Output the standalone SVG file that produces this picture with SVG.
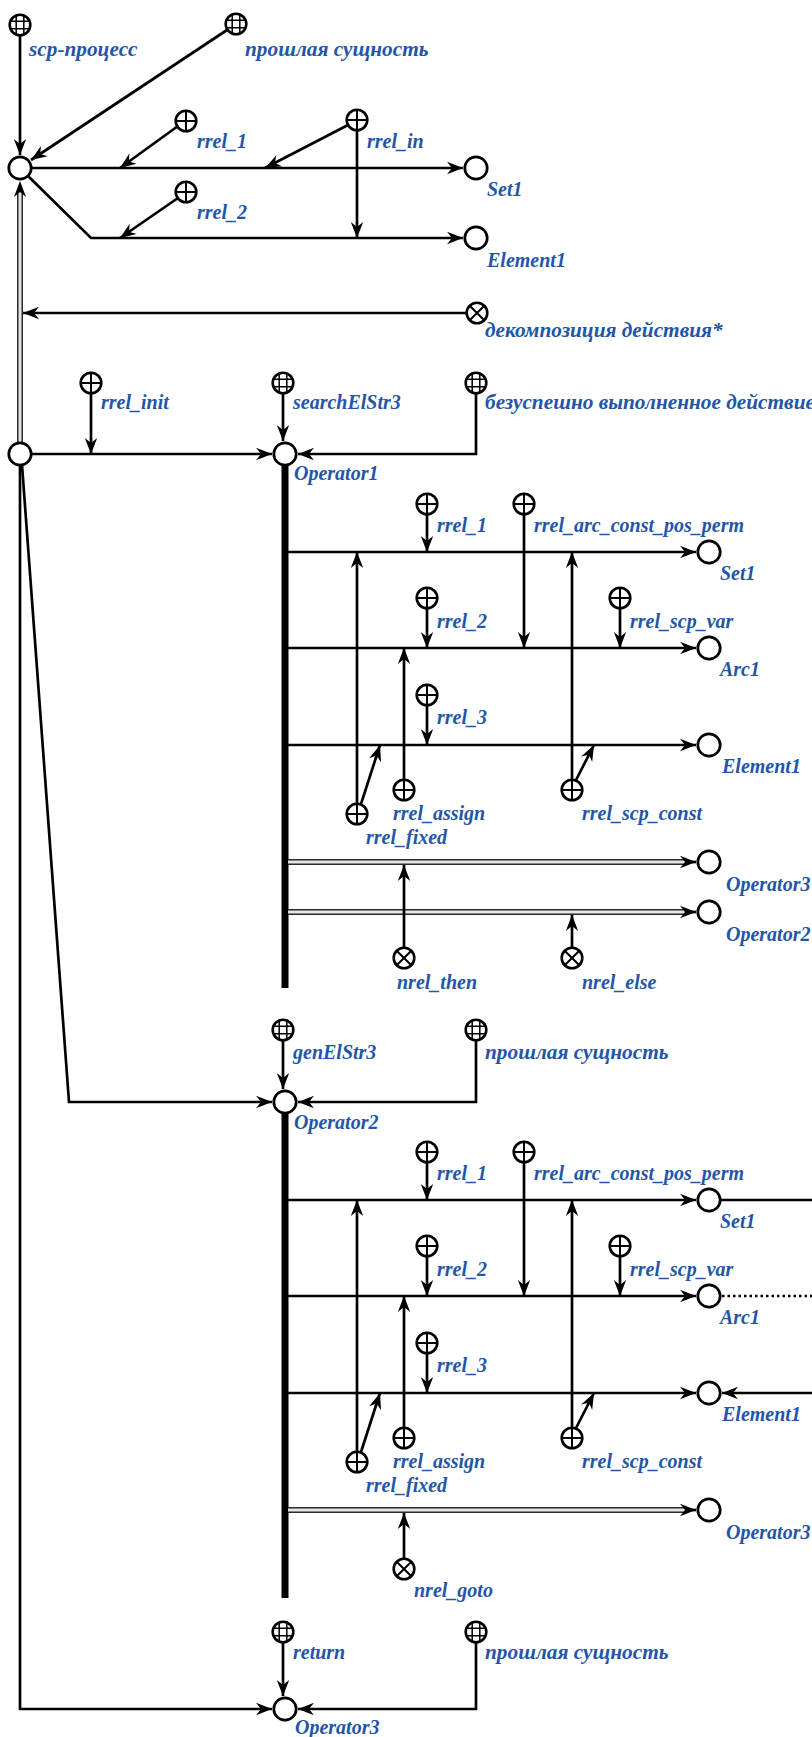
<svg xmlns="http://www.w3.org/2000/svg" xmlns:xlink="http://www.w3.org/1999/xlink" width="812" height="1737" viewBox="0 0 812 1737">
<style>
.t{font-family:"Liberation Serif","Times New Roman",serif;font-weight:bold;font-style:italic;font-size:20px;fill:#2356a8}
.r{font-size:21.3px}
.c{fill:none;stroke:#000;stroke-width:2.7}
.a{marker-end:url(#ah)}
.bar{fill:none;stroke:#000;stroke-width:7}
.dbo{fill:none;stroke:#2a2a2a;stroke-width:6}
.dbi{fill:none;stroke:#e4e4e4;stroke-width:3}
.dot{fill:none;stroke:#000;stroke-width:2.7;stroke-dasharray:2.5 3}
.n{fill:#fff;stroke:#000;stroke-width:2.7}
.s{fill:#fff;stroke:#000;stroke-width:2.6}
.g{fill:none;stroke:#000;stroke-width:1.5}
</style>
<defs>
<marker id="ah" viewBox="-17 -8 18 16" refX="0" refY="0" markerWidth="18" markerHeight="16" markerUnits="userSpaceOnUse" orient="auto"><path d="M0,0 L-16,-6.2 L-11,0 L-16,6.2 Z" fill="#000"/></marker>
<g id="grid"><circle r="10.3" class="s"/><path class="g" d="M-3.8,-9.5V9.5M3.8,-9.5V9.5M-9.5,-3.8H9.5M-9.5,3.8H9.5"/></g>
<g id="plus"><circle r="10.3" class="s"/><path class="g" style="stroke-width:2" d="M0,-10.3V10.3M-10.3,0H10.3"/></g>
<g id="cross"><circle r="10.3" class="s"/><path class="g" style="stroke-width:2" d="M-7.3,-7.3L7.3,7.3M-7.3,7.3L7.3,-7.3"/></g>
<g id="var"><circle r="11.2" class="n"/></g>
</defs>
<rect width="812" height="1737" fill="#fff"/>

<g id="connectors">
<!-- double line B -> A -->
<path class="dbo" d="M20,442 V192"/>
<path class="dbi" d="M20,442 V192"/>
<path d="M20,181 L14,197 L20,192 L26,197 Z" fill="#000"/>
<!-- top section -->
<path class="c a" d="M20,36 V155"/>
<path class="c a" d="M227,30 L31,160"/>
<path class="c a" d="M31,168 H463"/>
<path class="c a" d="M28,176 L91,238 H463"/>
<path class="c a" d="M178,126 L120,168"/>
<path class="c a" d="M348,125 L265,168"/>
<path class="c a" d="M357,131 V238"/>
<path class="c a" d="M178,198 L120,238"/>
<path class="c a" d="M466,313 H23"/>
<!-- section 2 -->
<path class="c a" d="M31,454 H272"/>
<path class="c a" d="M91,394 V454"/>
<path class="c a" d="M283,394 V441"/>
<path class="c a" d="M476,394 V454 H298"/>
<path class="bar" d="M285,465 V988"/>
<!-- block 1 -->
<path class="c a" d="M288,552 H696"/>
<path class="c a" d="M288,648 H696"/>
<path class="c a" d="M288,745 H696"/>
<path class="c a" d="M427,515 V552"/>
<path class="c a" d="M524,515 V648"/>
<path class="c a" d="M427,609 V648"/>
<path class="c a" d="M620,609 V648"/>
<path class="c a" d="M427,706 V745"/>
<path class="c a" d="M357,803 V552"/>
<path class="c a" d="M361,804 L380,745"/>
<path class="c a" d="M404,779 V648"/>
<path class="c a" d="M572,779 V552"/>
<path class="c a" d="M576,780 L594,745"/>
<path class="dbo" d="M288,862 H688"/>
<path class="dbi" d="M288,862 H688"/>
<path class="c a" d="M686,862 H696"/>
<path class="dbo" d="M288,912 H688"/>
<path class="dbi" d="M288,912 H688"/>
<path class="c a" d="M686,912 H696"/>
<path class="c a" d="M404,947 V865"/>
<path class="c a" d="M572,947 V915"/>
<!-- section 4 -->
<path class="c a" d="M22,465 L69,1102 H272"/>
<path class="c a" d="M283,1041 V1089"/>
<path class="c a" d="M476,1041 V1102 H298"/>
<path class="bar" d="M285,1113 V1598"/>
<!-- block 2 -->
<path class="c a" d="M288,1200 H696"/>
<path class="c a" d="M288,1296 H696"/>
<path class="c a" d="M288,1393 H696"/>
<path class="c a" d="M427,1163 V1200"/>
<path class="c a" d="M524,1163 V1296"/>
<path class="c a" d="M427,1257 V1296"/>
<path class="c a" d="M620,1257 V1296"/>
<path class="c a" d="M427,1354 V1393"/>
<path class="c a" d="M357,1451 V1200"/>
<path class="c a" d="M361,1452 L380,1393"/>
<path class="c a" d="M404,1427 V1296"/>
<path class="c a" d="M572,1427 V1200"/>
<path class="c a" d="M576,1428 L594,1393"/>
<path class="dbo" d="M288,1510 H688"/>
<path class="dbi" d="M288,1510 H688"/>
<path class="c a" d="M686,1510 H696"/>
<path class="c a" d="M404,1559 V1513"/>
<path class="c" d="M720,1200 H812"/>
<path class="dot" d="M722,1296 H812"/>
<path class="c a" d="M812,1393 H722"/>
<!-- section 5 -->
<path class="c a" d="M20,465 V1709 H272"/>
<path class="c a" d="M283,1643 V1696"/>
<path class="c a" d="M476,1643 V1709 H298"/>
</g>

<g id="n-scp"><use xlink:href="#grid" x="20" y="25"/><text class="t r" x="29" y="56">scp-процесс</text></g>
<g id="n-past1"><use xlink:href="#grid" x="236" y="24"/><text class="t r" x="245" y="56">прошлая сущность</text></g>
<g id="n-A"><use xlink:href="#var" x="20" y="168"/></g>
<g id="n-rrel1-top"><use xlink:href="#plus" x="186" y="121"/><text class="t" x="197" y="148">rrel_1</text></g>
<g id="n-rrelin"><use xlink:href="#plus" x="357" y="120"/><text class="t" x="367" y="148">rrel_in</text></g>
<g id="n-rrel2-top"><use xlink:href="#plus" x="186" y="192"/><text class="t" x="197" y="219">rrel_2</text></g>
<g id="n-set1-top"><use xlink:href="#var" x="476" y="168"/><text class="t" x="487" y="196">Set1</text></g>
<g id="n-el1-top"><use xlink:href="#var" x="476" y="238"/><text class="t" x="487" y="267">Element1</text></g>
<g id="n-decomp"><use xlink:href="#cross" x="477" y="313"/><text class="t r" x="485" y="337">декомпозиция действия*</text></g>

<g id="n-rrelinit"><use xlink:href="#plus" x="91" y="383"/><text class="t" x="101" y="409">rrel_init</text></g>
<g id="n-search"><use xlink:href="#grid" x="283" y="383"/><text class="t" x="293" y="409">searchElStr3</text></g>
<g id="n-fail"><use xlink:href="#grid" x="476" y="383"/><text class="t r" x="485" y="409">безуспешно выполненное действие</text></g>
<g id="n-B"><use xlink:href="#var" x="20" y="454"/></g>
<g id="n-op1"><use xlink:href="#var" x="285" y="454"/><text class="t" x="294" y="480">Operator1</text></g>

<g id="n-b1-rrel1"><use xlink:href="#plus" x="427" y="504"/><text class="t" x="437" y="532">rrel_1</text></g>
<g id="n-b1-arc"><use xlink:href="#plus" x="524" y="504"/><text class="t" x="534" y="532">rrel_arc_const_pos_perm</text></g>
<g id="n-b1-set1"><use xlink:href="#var" x="709" y="552"/><text class="t" x="720" y="580">Set1</text></g>
<g id="n-b1-rrel2"><use xlink:href="#plus" x="427" y="598"/><text class="t" x="437" y="628">rrel_2</text></g>
<g id="n-b1-scpvar"><use xlink:href="#plus" x="620" y="598"/><text class="t" x="630" y="628">rrel_scp_var</text></g>
<g id="n-b1-arc1"><use xlink:href="#var" x="709" y="648"/><text class="t" x="720" y="676">Arc1</text></g>
<g id="n-b1-rrel3"><use xlink:href="#plus" x="427" y="695"/><text class="t" x="437" y="724">rrel_3</text></g>
<g id="n-b1-el1"><use xlink:href="#var" x="709" y="745"/><text class="t" x="722" y="773">Element1</text></g>
<g id="n-b1-fixed"><use xlink:href="#plus" x="357" y="814"/><text class="t" x="366" y="844">rrel_fixed</text></g>
<g id="n-b1-assign"><use xlink:href="#plus" x="404" y="790"/><text class="t" x="393" y="820">rrel_assign</text></g>
<g id="n-b1-const"><use xlink:href="#plus" x="572" y="790"/><text class="t" x="582" y="820">rrel_scp_const</text></g>
<g id="n-b1-op3"><use xlink:href="#var" x="709" y="862"/><text class="t" x="726" y="891">Operator3</text></g>
<g id="n-b1-op2"><use xlink:href="#var" x="709" y="912"/><text class="t" x="726" y="941">Operator2</text></g>
<g id="n-then"><use xlink:href="#cross" x="404" y="958"/><text class="t" x="397" y="989">nrel_then</text></g>
<g id="n-else"><use xlink:href="#cross" x="572" y="958"/><text class="t" x="582" y="989">nrel_else</text></g>

<g id="n-gen"><use xlink:href="#grid" x="283" y="1030"/><text class="t" x="293" y="1059">genElStr3</text></g>
<g id="n-past2"><use xlink:href="#grid" x="476" y="1030"/><text class="t r" x="485" y="1059">прошлая сущность</text></g>
<g id="n-op2"><use xlink:href="#var" x="285" y="1102"/><text class="t" x="294" y="1129">Operator2</text></g>

<g id="n-b2-rrel1"><use xlink:href="#plus" x="427" y="1152"/><text class="t" x="437" y="1180">rrel_1</text></g>
<g id="n-b2-arc"><use xlink:href="#plus" x="524" y="1152"/><text class="t" x="534" y="1180">rrel_arc_const_pos_perm</text></g>
<g id="n-b2-set1"><use xlink:href="#var" x="709" y="1200"/><text class="t" x="720" y="1228">Set1</text></g>
<g id="n-b2-rrel2"><use xlink:href="#plus" x="427" y="1246"/><text class="t" x="437" y="1276">rrel_2</text></g>
<g id="n-b2-scpvar"><use xlink:href="#plus" x="620" y="1246"/><text class="t" x="630" y="1276">rrel_scp_var</text></g>
<g id="n-b2-arc1"><use xlink:href="#var" x="709" y="1296"/><text class="t" x="720" y="1324">Arc1</text></g>
<g id="n-b2-rrel3"><use xlink:href="#plus" x="427" y="1343"/><text class="t" x="437" y="1372">rrel_3</text></g>
<g id="n-b2-el1"><use xlink:href="#var" x="709" y="1393"/><text class="t" x="722" y="1421">Element1</text></g>
<g id="n-b2-fixed"><use xlink:href="#plus" x="357" y="1462"/><text class="t" x="366" y="1492">rrel_fixed</text></g>
<g id="n-b2-assign"><use xlink:href="#plus" x="404" y="1438"/><text class="t" x="393" y="1468">rrel_assign</text></g>
<g id="n-b2-const"><use xlink:href="#plus" x="572" y="1438"/><text class="t" x="582" y="1468">rrel_scp_const</text></g>
<g id="n-b2-op3"><use xlink:href="#var" x="709" y="1510"/><text class="t" x="726" y="1539">Operator3</text></g>
<g id="n-goto"><use xlink:href="#cross" x="404" y="1569"/><text class="t" x="414" y="1597">nrel_goto</text></g>

<g id="n-return"><use xlink:href="#grid" x="283" y="1632"/><text class="t" x="293" y="1659">return</text></g>
<g id="n-past3"><use xlink:href="#grid" x="476" y="1632"/><text class="t r" x="485" y="1659">прошлая сущность</text></g>
<g id="n-op3"><use xlink:href="#var" x="285" y="1709"/><text class="t" x="295" y="1734">Operator3</text></g>
</svg>
